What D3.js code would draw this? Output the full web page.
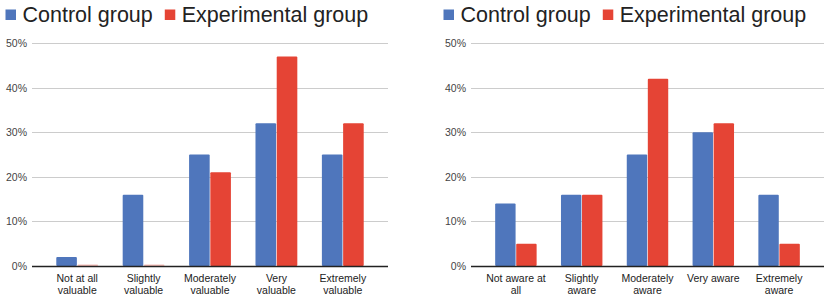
<!DOCTYPE html>
<html>
<head>
<meta charset="utf-8">
<script src="https://cdn.jsdelivr.net/npm/d3@7"></script>
<style>
  body { margin: 0; background: #fff; }
  svg { display: block; font-family: "Liberation Sans", Arial, sans-serif; }
</style>
</head>
<body>
<div id="viz"></div>
<script>
const seriesNames = ["Control group", "Experimental group"];
const colors = ["#4f76bc", "#e54435"];
const yTicks = [0, 10, 20, 30, 40, 50];

// left chart: how valuable
const valueCats = [["Not at all", "valuable"], ["Slightly", "valuable"], ["Moderately", "valuable"], ["Very", "valuable"], ["Extremely", "valuable"]];
const valueControl = [2, 16, 25, 32, 25];
const valueExperimental = [0, 0, 21, 47, 32];

// right chart: how aware
const awareCats = [["Not aware at", "all"], ["Slightly", "aware"], ["Moderately", "aware"], ["Very aware"], ["Extremely", "aware"]];
const awareControl = [14, 16, 25, 30, 16];
const awareExperimental = [5, 16, 42, 32, 5];

const width = 824, height = 302;

const svg = d3.select("#viz")
  .append("svg")
  .attr("width", width)
  .attr("height", height);

const y = d3.scaleLinear().domain([0, 50]).range([266, 43]);

function drawChart(cfg) {
  const g = svg.append("g");

  // legend
  const leg = g.append("g").attr("transform", `translate(${cfg.legendX},0)`);
  let lx = 0;
  seriesNames.forEach((name, i) => {
    leg.append("rect")
      .attr("x", lx).attr("y", 9.5)
      .attr("width", 10.5).attr("height", 10.5)
      .attr("fill", colors[i]);
    const t = leg.append("text")
      .attr("x", lx + 17).attr("y", 22)
      .attr("font-size", 21.5)
      .attr("fill", "#222")
      .text(name);
    lx += 17 + t.node().getComputedTextLength() + 12;
  });

  // gridlines + tick labels
  g.selectAll("line.grid")
    .data(yTicks.filter(d => d > 0))
    .enter().append("line")
    .attr("class", "grid")
    .attr("x1", cfg.x0).attr("x2", cfg.x1)
    .attr("y1", d => Math.round(y(d)) + 0.5)
    .attr("y2", d => Math.round(y(d)) + 0.5)
    .attr("stroke", "#cccccc");

  g.selectAll("text.tick")
    .data(yTicks)
    .enter().append("text")
    .attr("class", "tick")
    .attr("x", cfg.x0 - 5)
    .attr("y", d => y(d) + 4)
    .attr("text-anchor", "end")
    .attr("font-size", 10.5)
    .attr("fill", "#444")
    .text(d => d + "%");

  // bars
  const x = d3.scaleBand()
    .domain(d3.range(cfg.cats.length))
    .range([cfg.x0 + 12, cfg.x1 - 12])
    .paddingInner(0.37)
    .paddingOuter(0.185);
  const xs = d3.scaleBand()
    .domain([0, 1])
    .range([0, x.bandwidth()])
    .paddingInner(0.03);

  const rows = cfg.cats.map((c, i) => ({ i, vals: [cfg.control[i], cfg.experimental[i]] }));
  const grp = g.selectAll("g.grp")
    .data(rows)
    .enter().append("g")
    .attr("transform", d => `translate(${x(d.i)},0)`);

  grp.selectAll("rect")
    .data(d => d.vals)
    .enter().append("rect")
    .attr("x", (d, j) => xs(j))
    .attr("width", xs.bandwidth())
    .attr("y", d => d > 0 ? y(d) : y(0) - 1.5)
    .attr("height", d => d > 0 ? y(0) - y(d) : 1.5)
    .attr("rx", 1)
    .attr("fill", (d, j) => colors[j])
    .attr("opacity", d => d > 0 ? 1 : 0.35);

  // baseline
  g.append("line")
    .attr("x1", cfg.x0).attr("x2", cfg.x1)
    .attr("y1", y(0) + 0.5).attr("y2", y(0) + 0.5)
    .attr("stroke", "#222")
    .attr("stroke-width", 1.3);

  // category labels
  grp.append("text")
    .attr("x", x.bandwidth() / 2)
    .attr("text-anchor", "middle")
    .attr("font-size", 10.5)
    .attr("fill", "#222")
    .selectAll("tspan")
    .data(d => cfg.cats[d.i])
    .enter().append("tspan")
    .attr("x", x.bandwidth() / 2)
    .attr("y", (d, k) => 281.5 + k * 12.5)
    .text(d => d);
}

drawChart({ x0: 32, x1: 388, legendX: 5.5, cats: valueCats, control: valueControl, experimental: valueExperimental });
drawChart({ x0: 471, x1: 824, legendX: 443.5, cats: awareCats, control: awareControl, experimental: awareExperimental });
</script>
</body>
</html>
